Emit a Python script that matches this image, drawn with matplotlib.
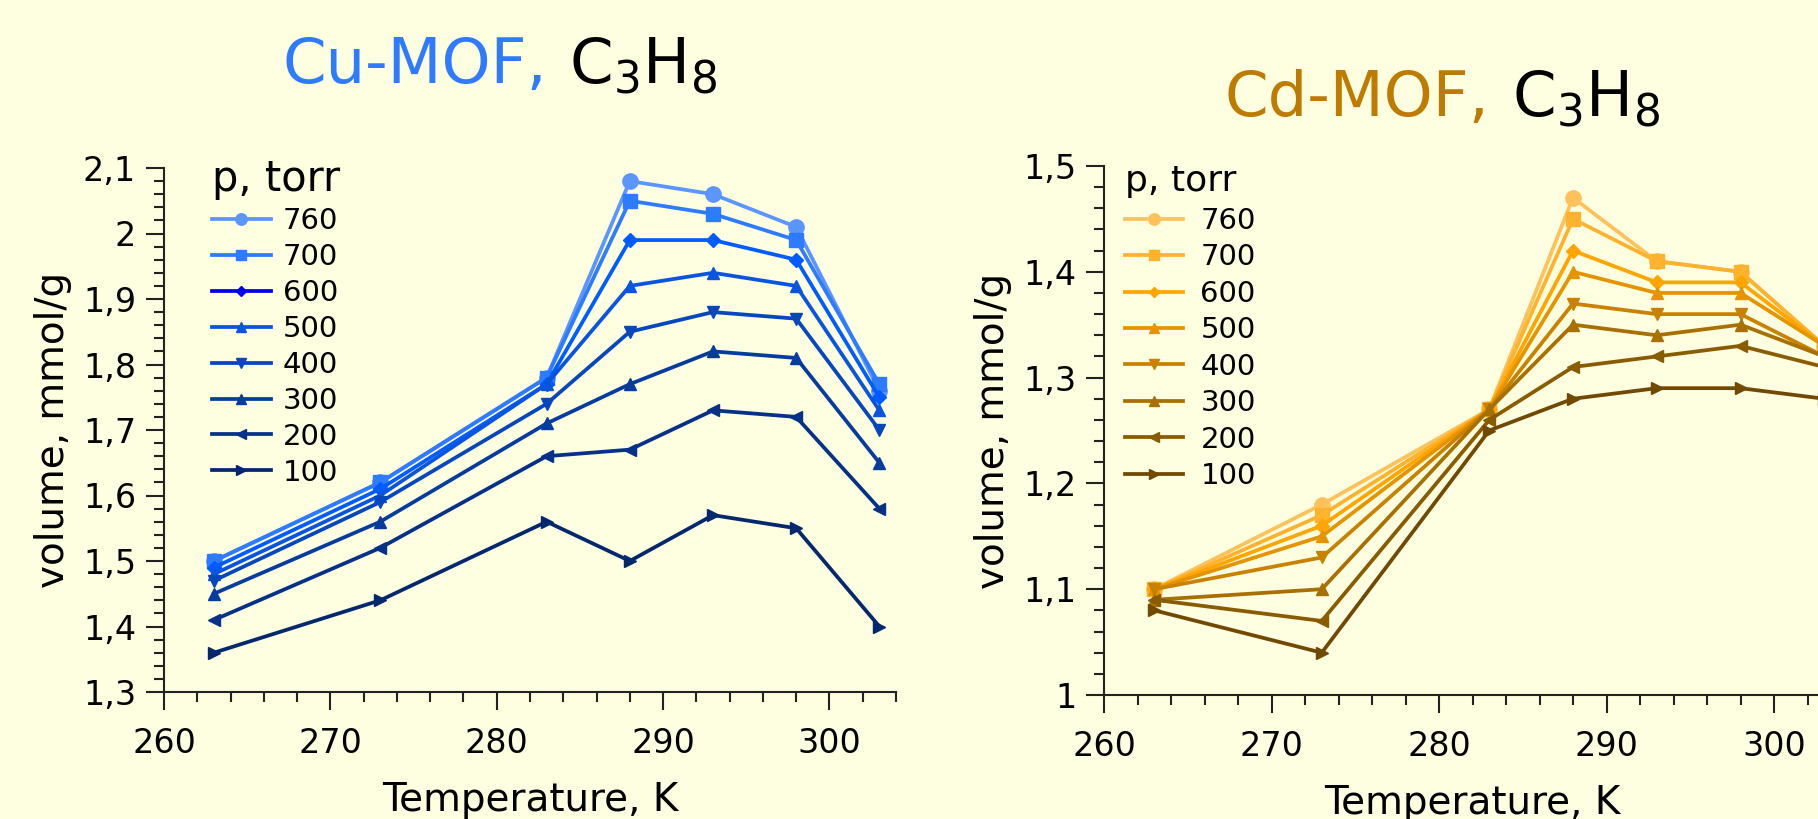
import matplotlib
matplotlib.use('Agg')
import matplotlib.pyplot as plt
from matplotlib.ticker import MultipleLocator, FuncFormatter

plt.rcParams['font.family'] = 'DejaVu Sans'
plt.rcParams['mathtext.default'] = 'regular'

# temperatures, K
temps = [263, 273, 283, 288, 293, 298, 303]
pressures = ['760', '700', '600', '500', '400', '300', '200', '100']

# Cu-MOF, C3H8 (mmol/g)
cu_760 = [1.50, 1.62, 1.78, 2.08, 2.06, 2.01, 1.76]
cu_700 = [1.50, 1.62, 1.78, 2.05, 2.03, 1.99, 1.77]
cu_600 = [1.49, 1.61, 1.77, 1.99, 1.99, 1.96, 1.75]
cu_500 = [1.48, 1.60, 1.77, 1.92, 1.94, 1.92, 1.73]
cu_400 = [1.47, 1.59, 1.74, 1.85, 1.88, 1.87, 1.70]
cu_300 = [1.45, 1.56, 1.71, 1.77, 1.82, 1.81, 1.65]
cu_200 = [1.41, 1.52, 1.66, 1.67, 1.73, 1.72, 1.58]
cu_100 = [1.36, 1.44, 1.56, 1.50, 1.57, 1.55, 1.40]

# Cd-MOF, C3H8 (mmol/g)
cd_760 = [1.10, 1.18, 1.27, 1.47, 1.41, 1.40, 1.33]
cd_700 = [1.10, 1.17, 1.27, 1.45, 1.41, 1.40, 1.33]
cd_600 = [1.10, 1.16, 1.27, 1.42, 1.39, 1.39, 1.33]
cd_500 = [1.10, 1.15, 1.27, 1.40, 1.38, 1.38, 1.33]
cd_400 = [1.10, 1.13, 1.27, 1.37, 1.36, 1.36, 1.32]
cd_300 = [1.09, 1.10, 1.27, 1.35, 1.34, 1.35, 1.32]
cd_200 = [1.09, 1.07, 1.26, 1.31, 1.32, 1.33, 1.31]
cd_100 = [1.08, 1.04, 1.25, 1.28, 1.29, 1.29, 1.28]

cu_series = [cu_760, cu_700, cu_600, cu_500, cu_400, cu_300, cu_200, cu_100]
cd_series = [cd_760, cd_700, cd_600, cd_500, cd_400, cd_300, cd_200, cd_100]

cu_colors = ['#5b96ff', '#2d7bff', '#005cff', '#0a55dd', '#0647bb', '#063c9e', '#053288', '#04286e']
cd_colors = ['#ffc25a', '#ffb22e', '#ffa500', '#e59400', '#c98200', '#a87000', '#8a5c00', '#714900']
markers = ['o', 's', 'D', '^', 'v', '^', '<', '>']
msizes = [11, 10, 7, 9, 9, 9, 9, 9]

bg = '#fefee0'
W, H = 1818, 819
fig = plt.figure(figsize=(W / 100, H / 100), dpi=100, facecolor=bg)


def comma(v, pos):
    s = ('%.1f' % v).rstrip('0').rstrip('.')
    return s.replace('.', ',')


def setup(ax, ylim, xlim):
    ax.set_facecolor(bg)
    ax.patch.set_alpha(0)
    ax.set_xlim(*xlim)
    ax.set_ylim(*ylim)
    for s in ['top', 'right']:
        ax.spines[s].set_visible(False)
    for s in ['left', 'bottom']:
        ax.spines[s].set_linewidth(1.5)
        ax.spines[s].set_color('#222222')
    ax.xaxis.set_major_locator(MultipleLocator(10))
    ax.xaxis.set_minor_locator(MultipleLocator(2))
    ax.yaxis.set_major_locator(MultipleLocator(0.1))
    ax.yaxis.set_minor_locator(MultipleLocator(0.02))
    ax.yaxis.set_major_formatter(FuncFormatter(comma))
    ax.tick_params(which='major', length=13, width=1.5, labelsize=24, color='#222222')
    ax.tick_params(which='minor', length=7, width=1.5, color='#222222')
    ax.tick_params(axis='x', which='major', pad=12)
    ax.tick_params(axis='y', which='major', pad=7)
    ax.set_xlabel('Temperature, K', fontsize=28, labelpad=15)
    ax.set_ylabel('volume, mmol/g', fontsize=28, labelpad=8)


# left: Cu-MOF
ax1 = fig.add_axes([164 / W, 1 - 692 / H, (896 - 164) / W, (692 - 168) / H])
setup(ax1, (1.3, 2.1), (260, 304))
for vals, c, m, ms, p in zip(cu_series, cu_colors, markers, msizes, pressures):
    ax1.plot(temps, vals, color=c, marker=m, markersize=ms, linewidth=2.7, label=p, clip_on=False)
leg1 = ax1.legend(loc='upper left', bbox_to_anchor=(0.065, 1.02), frameon=False,
                  title='p, torr', title_fontsize=30, fontsize=21, alignment='left',
                  handlelength=2.05, handletextpad=0.4, labelspacing=0.27,
                  borderpad=0, borderaxespad=0, markerscale=0.75)
leg1.get_lines()[2].set_color('#0000e8')

# right: Cd-MOF (runs past the right edge of the figure)
ax2 = fig.add_axes([1104 / W, 1 - 695 / H, (1841 - 1104) / W, (695 - 166) / H])
setup(ax2, (1.0, 1.5), (260, 304))
for vals, c, m, ms, p in zip(cd_series, cd_colors, markers, msizes, pressures):
    ax2.plot(temps, vals, color=c, marker=m, markersize=ms, linewidth=2.7, label=p, clip_on=False)
ax2.legend(loc='upper left', bbox_to_anchor=(0.028, 1.003), frameon=False,
           title='p, torr', title_fontsize=26, fontsize=21, alignment='left',
           handlelength=2.0, handletextpad=0.6, labelspacing=0.29,
           borderpad=0, borderaxespad=0, markerscale=0.75)

# titles: coloured material name + black formula
fig.canvas.draw()


def two_tone(x, y, name, color):
    t1 = fig.text(x / W, 1 - y / H, name, color=color, fontsize=45, va='baseline')
    bb = t1.get_window_extent(renderer=fig.canvas.get_renderer())
    fig.text((bb.x1 + 22) / W, 1 - y / H, r'$\mathregular{C_3H_8}$', color='black',
             fontsize=45, va='baseline')


two_tone(282, 83, 'Cu-MOF,', '#2f7bff')
two_tone(1225, 116, 'Cd-MOF,', '#bf7a00')

fig.savefig('out.png', dpi=100, facecolor=bg)
